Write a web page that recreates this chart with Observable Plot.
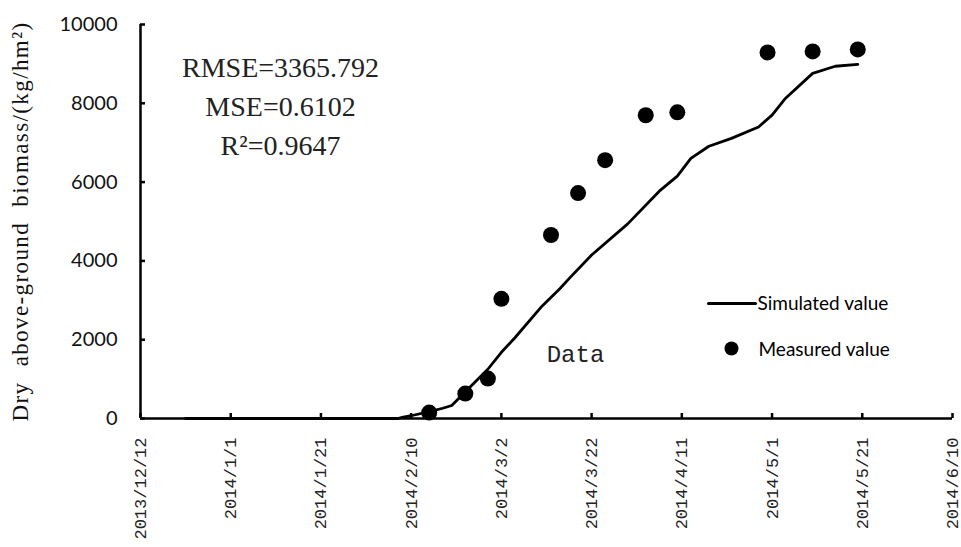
<!DOCTYPE html>
<html>
<head>
<meta charset="utf-8">
<script src="https://cdn.jsdelivr.net/npm/d3@7"></script>
<script src="https://cdn.jsdelivr.net/npm/@observablehq/plot@0.6"></script>
<style>
  body { margin: 0; background: #fff; }
  .ylab text { letter-spacing: 1.4px; word-spacing: 8px; }
</style>
</head>
<body>
<div id="chart"></div>
<script>
// ---- data ----
const simDates = ["2013-12-22","2014-02-07","2014-02-08","2014-02-10","2014-02-14","2014-02-17","2014-02-19","2014-02-22","2014-02-27","2014-03-02","2014-03-05","2014-03-11","2014-03-15","2014-03-17","2014-03-22","2014-03-30","2014-04-06","2014-04-10","2014-04-13","2014-04-17","2014-04-22","2014-04-28","2014-05-01","2014-05-04","2014-05-10","2014-05-15","2014-05-20"];
const simValues = [0, 0, 30, 70, 175, 260, 330, 680, 1250, 1680, 2050, 2850, 3300, 3550, 4150, 4940, 5770, 6150, 6600, 6910, 7110, 7400, 7700, 8130, 8760, 8940, 8990];

const measDates = ["2014-02-14","2014-02-22","2014-02-27","2014-03-02","2014-03-13","2014-03-19","2014-03-25","2014-04-03","2014-04-10","2014-04-30","2014-05-10","2014-05-20"];
const measValues = [150, 633, 1013, 3038, 4658, 5722, 6557, 7696, 7772, 9291, 9316, 9367];

const xTickDates = ["2013-12-12","2014-01-01","2014-01-21","2014-02-10","2014-03-02","2014-03-22","2014-04-11","2014-05-01","2014-05-21","2014-06-10"];
const yTicks = [0, 2000, 4000, 6000, 8000, 10000];

const statsLines = ["RMSE=3365.792", "MSE=0.6102", "R²=0.9647"];
const yLabel = "Dry above-ground biomass/(kg/hm²)";
const seriesNames = ["Simulated value", "Measured value"];
const noteText = "Data";

// ---- build tables ----
const parse = d3.utcParse("%Y-%m-%d");
const sim = simDates.map((d, i) => ({date: parse(d), value: simValues[i]}));
const meas = measDates.map((d, i) => ({date: parse(d), value: measValues[i]}));
const xt = xTickDates.map(parse);
const fmt = d => `${d.getUTCFullYear()}/${d.getUTCMonth() + 1}/${d.getUTCDate()}`;

const legendLineShape = {
  draw(context, l) { context.moveTo(0, 0); context.lineTo(0, -l); }
};

const plot = Plot.plot({
  width: 961,
  height: 547,
  marginLeft: 140,
  marginRight: 9,
  marginTop: 24,
  marginBottom: 129,
  style: {background: "#fff", color: "#000", overflow: "visible"},
  x: {type: "utc", domain: [xt[0], xt[xt.length - 1]], label: null},
  y: {domain: [0, 10000], label: null},
  marks: [
    // y tick labels
    Plot.axisY({ticks: yTicks, tickSize: 0, tickPadding: 23, tickFormat: d => String(d),
      fontSize: 20, fontFamily: "Lato", fill: "#111", label: null}),
    // y ticks (inward)
    Plot.axisY({ticks: yTicks, tickSize: 5, dx: 5, strokeWidth: 2.5, fill: "none", label: null}),
    // x tick labels
    Plot.axisX({ticks: xt, tickSize: 0, tickPadding: 19, tickRotate: -90, tickFormat: fmt,
      fontSize: 17, fontFamily: "Liberation Mono", fill: "#222", label: null}),
    // x ticks (inward)
    Plot.axisX({ticks: xt, tickSize: 5, dy: -5, strokeWidth: 2.5, fill: "none", label: null}),
    // axis lines
    Plot.ruleY([0], {strokeWidth: 2.5}),
    Plot.ruleX([xt[0]], {strokeWidth: 2.5}),
    // simulated line
    Plot.line(sim, {x: "date", y: "value", stroke: "#000", strokeWidth: 2.8}),
    // measured dots
    Plot.dot(meas, {x: "date", y: "value", r: 8, fill: "#000", stroke: "none"}),
    // stats annotation
    Plot.text([statsLines.join("\n")], {frameAnchor: "top-left", dx: 140, dy: 24,
      lineAnchor: "top", textAnchor: "middle", lineHeight: 1.41,
      fontSize: 28, fontFamily: "Liberation Serif", fill: "#222"}),
    // "Data" note
    Plot.text([noteText], {frameAnchor: "top-left", dx: 435, dy: 320,
      lineAnchor: "top", textAnchor: "middle", fontSize: 24, fontFamily: "Liberation Mono", fill: "#222"}),
    // legend
    Plot.vector([0], {frameAnchor: "top-left", dx: 568, dy: 279, length: 47, rotate: 90,
      anchor: "start", shape: legendLineShape, stroke: "#000", strokeWidth: 3}),
    Plot.text([seriesNames[0]], {frameAnchor: "top-left", dx: 617, dy: 279, textAnchor: "start",
      lineAnchor: "middle", fontSize: 19, fontFamily: "Lato", fill: "#000"}),
    Plot.dot([0], {frameAnchor: "top-left", dx: 591, dy: 324, r: 7, fill: "#000", stroke: "none"}),
    Plot.text([seriesNames[1]], {frameAnchor: "top-left", dx: 618, dy: 325, textAnchor: "start",
      lineAnchor: "middle", fontSize: 19, fontFamily: "Lato", fill: "#000"}),
    // y axis title
    Plot.text([yLabel], {frameAnchor: "left", dx: -120, rotate: -90, textAnchor: "middle",
      lineAnchor: "middle", fontSize: 23, fontFamily: "Liberation Serif", fill: "#111", className: "ylab"})
  ]
});
document.getElementById("chart").appendChild(plot);
</script>
</body>
</html>
